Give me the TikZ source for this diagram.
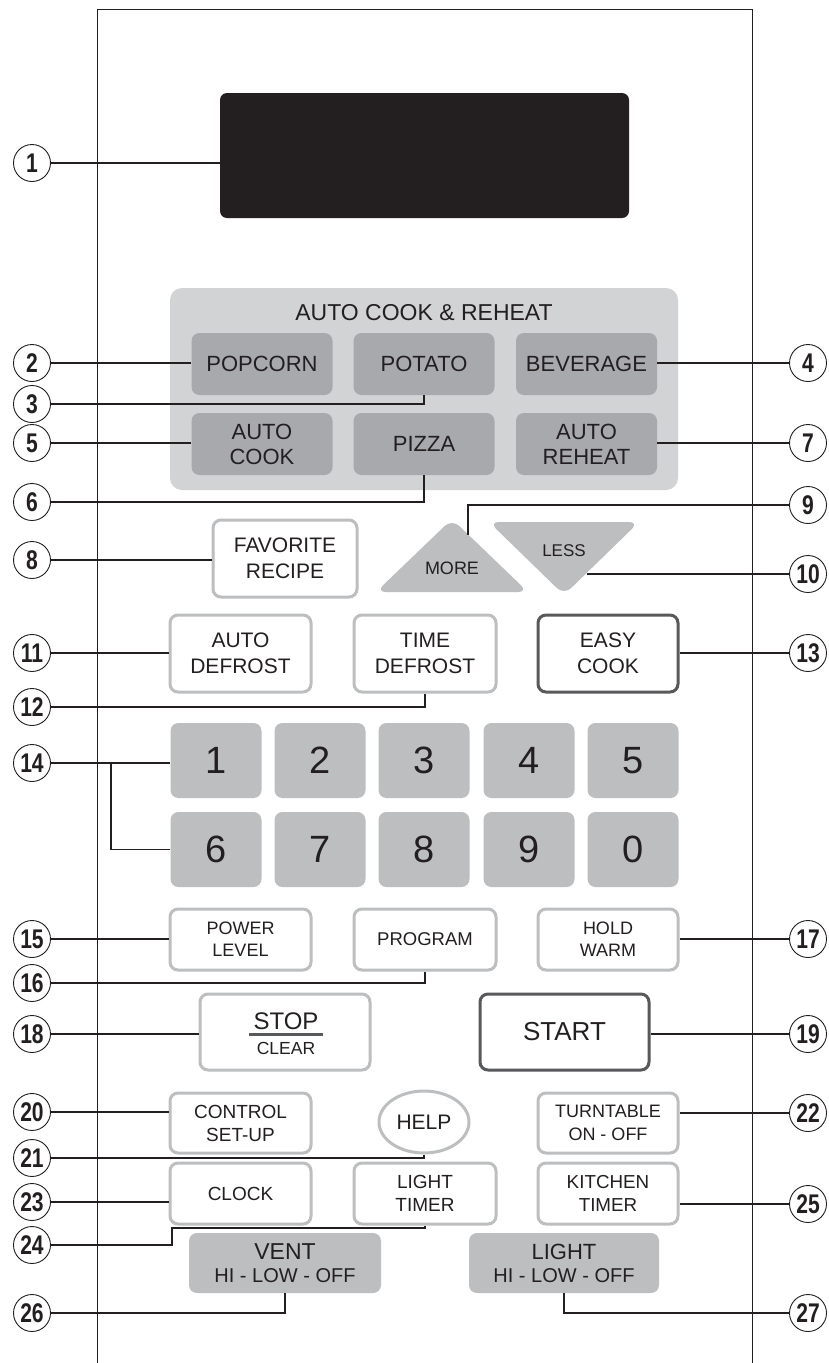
\documentclass[tikz,border=0pt]{standalone}
\usepackage{fontspec}
\setmainfont{Liberation Sans}
\newfontfamily\lblfont[FakeStretch=0.78]{Liberation Sans}
\usetikzlibrary{calc,shapes.geometric}
\definecolor{ink}{HTML}{231F20}
\definecolor{panelgray}{HTML}{D1D3D4}
\definecolor{autogray}{HTML}{A7A9AC}
\definecolor{keygray}{HTML}{BCBEC0}
\definecolor{rimgray}{HTML}{BCBEC0}
\definecolor{darkrim}{HTML}{58595B}
\newcommand{\fsz}[2]{\fontsize{#1}{#2}\selectfont}
\tikzset{
  lbl/.style={circle, draw=ink, line width=0.9, fill=white, minimum size=37, inner sep=0,
    font=\lblfont\fsz{27}{27}\bfseries, text=ink},
  wire/.style={draw=ink, line width=1.1},
  litebtn/.style={draw=rimgray, line width=3, fill=white, rounded corners=8, inner sep=0,
    text=ink, align=center},
  boldbtn/.style={draw=darkrim, line width=3, fill=white, rounded corners=8, inner sep=0,
    text=ink, align=center},
  autobtn/.style={fill=autogray, rounded corners=8, inner sep=0, text=ink, align=center,
    minimum width=141, minimum height=62, font=\fsz{22}{25}},
  keybtn/.style={fill=keygray, rounded corners=8, inner sep=0, text=ink,
    minimum width=91, minimum height=75, font=\fsz{38}{38}},
  ventbtn/.style={fill=keygray, rounded corners=8, inner sep=0, text=ink, align=center,
    minimum height=60, font=\fsz{20}{23}},
}
\begin{document}
\begin{tikzpicture}[x=1pt,y=-1pt]
\useasboundingbox (0,0) rectangle (829,1363);
\fill[white] (0,0) rectangle (829,1363);
% frame
\draw[ink, line width=1] (97,1363) -- (97,9) -- (752,9) -- (752,1363);
% display
\node[fill=ink, rounded corners=7, minimum width=409, minimum height=125, inner sep=0] (disp) at (424.5,155.5) {};
% auto cook panel
\node[fill=panelgray, rounded corners=12, minimum width=508, minimum height=202, inner sep=0] (panel) at (424,389) {};
\node[text=ink, font=\fsz{23}{23}, inner sep=0] (title) at (424,313) {AUTO COOK \& REHEAT};
\node[autobtn] (popcorn) at (262,364) {POPCORN};
\node[autobtn] (potato) at (424,364) {POTATO};
\node[autobtn] (beverage) at (586.5,364) {BEVERAGE};
\node[autobtn] (autocook) at (262,444) {AUTO\\COOK};
\node[autobtn] (pizza) at (424,444) {PIZZA};
\node[autobtn] (autoreheat) at (586.5,444) {AUTO\\REHEAT};
% favorite
\node[litebtn, minimum width=144, minimum height=77, font=\fsz{21}{26}] (favorite) at (285,558.5) {FAVORITE\\RECIPE};
% more / less
\fill[keygray, rounded corners=10] (452,519) -- (528,592) -- (376,592) -- cycle;
\fill[keygray, rounded corners=10] (489,522) -- (639,522) -- (564,595) -- cycle;
\node[text=ink, font=\fsz{18}{18}, inner sep=0] (more) at (452,568) {MORE};
\node[text=ink, font=\fsz{17}{17}, inner sep=0] (less) at (564,551) {LESS};
\coordinate (c9) at (468,535);
\coordinate (c10) at (587,574);
% defrost row
\node[litebtn, minimum width=141, minimum height=77, font=\fsz{21}{26}] (autodefrost) at (240.5,653.5) {AUTO\\DEFROST};
\node[litebtn, minimum width=142, minimum height=77, font=\fsz{21}{26}] (timedefrost) at (425,653.5) {TIME\\DEFROST};
\node[boldbtn, minimum width=140, minimum height=77, font=\fsz{21}{26}] (easycook) at (608,653.5) {EASY\\COOK};
% keypad
\node[keybtn] (k1) at (216,760.5) {1};
\node[keybtn] (k2) at (320,760.5) {2};
\node[keybtn] (k3) at (424,760.5) {3};
\node[keybtn] (k4) at (529,760.5) {4};
\node[keybtn] (k5) at (633,760.5) {5};
\node[keybtn] (k6) at (216,849.5) {6};
\node[keybtn] (k7) at (320,849.5) {7};
\node[keybtn] (k8) at (424,849.5) {8};
\node[keybtn] (k9) at (529,849.5) {9};
\node[keybtn] (k0) at (633,849.5) {0};
% power row
\node[litebtn, minimum width=141, minimum height=61, font=\fsz{18}{22}] (power) at (240.5,939.5) {POWER\\LEVEL};
\node[litebtn, minimum width=142, minimum height=61, font=\fsz{18.5}{22}] (program) at (425,939.5) {PROGRAM};
\node[litebtn, minimum width=140, minimum height=61, font=\fsz{18}{22}] (holdwarm) at (608,939.5) {HOLD\\WARM};
% stop / start
\node[litebtn, minimum width=170, minimum height=76] (stop) at (285,1032) {};
\node[text=ink, font=\fsz{24}{24}, inner sep=0] (stoptxt) at (286,1021) {STOP};
\node[text=ink, font=\fsz{17.5}{17.5}, inner sep=0] (cleartxt) at (286,1048) {CLEAR};
\draw[darkrim, line width=3] (249,1034) -- (323,1034);
\node[boldbtn, minimum width=169, minimum height=76, font=\fsz{26}{26}] (start) at (564.5,1032) {START};
% control row
\node[litebtn, minimum width=141, minimum height=60, font=\fsz{19}{23}] (control) at (240.5,1123) {CONTROL\\SET-UP};
\node[ellipse, draw=rimgray, line width=3, fill=white, minimum width=90, minimum height=62, inner sep=0,
  text=ink, font=\fsz{21}{21}] (help) at (424,1122) {HELP};
\node[litebtn, minimum width=140, minimum height=60, font=\fsz{18}{23}] (turntable) at (608,1123) {TURNTABLE\\ON - OFF};
% clock row
\node[litebtn, minimum width=141, minimum height=61, font=\fsz{19}{23}] (clock) at (240.5,1193.5) {CLOCK};
\node[litebtn, minimum width=142, minimum height=61, font=\fsz{19}{23}] (lighttimer) at (425,1193.5) {LIGHT\\TIMER};
\node[litebtn, minimum width=140, minimum height=61, font=\fsz{18.8}{23}] (kitchen) at (608,1193.5) {KITCHEN\\TIMER};
% vent / light
\node[ventbtn, minimum width=192] (vent) at (285,1263) {{\fsz{23}{23}VENT}\\HI - LOW - OFF};
\node[ventbtn, minimum width=190] (light) at (564,1263) {{\fsz{22}{22}LIGHT}\\HI - LOW - OFF};
% labels
\node[lbl] (l1) at (32,163) {1};
\node[lbl] (l2) at (32,363) {2};
\node[lbl] (l3) at (32,404) {3};
\node[lbl] (l4) at (808,363) {4};
\node[lbl] (l5) at (32,443) {5};
\node[lbl] (l6) at (32,502) {6};
\node[lbl] (l7) at (808,443) {7};
\node[lbl] (l8) at (32,560) {8};
\node[lbl] (l9) at (808,505) {9};
\node[lbl] (l10) at (808,574) {10};
\node[lbl] (l11) at (32,653) {11};
\node[lbl] (l12) at (32,707) {12};
\node[lbl] (l13) at (808,653) {13};
\node[lbl] (l14) at (32,763) {14};
\node[lbl] (l15) at (32,939) {15};
\node[lbl] (l16) at (32,983) {16};
\node[lbl] (l17) at (808,939) {17};
\node[lbl] (l18) at (32,1034) {18};
\node[lbl] (l19) at (808,1034) {19};
\node[lbl] (l20) at (32,1112) {20};
\node[lbl] (l21) at (32,1158) {21};
\node[lbl] (l22) at (808,1113) {22};
\node[lbl] (l23) at (32,1202) {23};
\node[lbl] (l24) at (32,1245) {24};
\node[lbl] (l25) at (808,1204) {25};
\node[lbl] (l26) at (32,1313) {26};
\node[lbl] (l27) at (808,1313) {27};
% connectors
\draw[wire] (l1.east) -- (l1.east -| disp.west);
\draw[wire] (l2.east) -- (l2.east -| popcorn.west);
\draw[wire] (l3.east) -| (potato.south);
\draw[wire] (l4.west) -- (l4.west -| beverage.east);
\draw[wire] (l5.east) -- (l5.east -| autocook.west);
\draw[wire] (l6.east) -| (pizza.south);
\draw[wire] (l7.west) -- (l7.west -| autoreheat.east);
\draw[wire] (l8.east) -- (l8.east -| favorite.west);
\draw[wire] (l9.west) -| (c9);
\draw[wire] (l10.west) -- (c10);
\draw[wire] (l11.east) -- (l11.east -| autodefrost.west);
\draw[wire] (l12.east) -| (timedefrost.south);
\draw[wire] (l13.west) -- (l13.west -| easycook.east);
\draw[wire] (l14.east) -- (l14.east -| k1.west);
\coordinate (b14) at (111,763);
\draw[wire] (b14) |- (k6.west);
\draw[wire] (l15.east) -- (l15.east -| power.west);
\draw[wire] (l16.east) -| (program.south);
\draw[wire] (l17.west) -- (l17.west -| holdwarm.east);
\draw[wire] (l18.east) -- (l18.east -| stop.west);
\draw[wire] (l19.west) -- (l19.west -| start.east);
\draw[wire] (l20.east) -- (l20.east -| control.west);
\draw[wire] (l21.east) -| (help.south);
\draw[wire] (l22.west) -- (l22.west -| turntable.east);
\draw[wire] (l23.east) -- (l23.east -| clock.west);
\coordinate (c24) at (172,1228);
\draw[wire] (l24.east) -| (c24) -| (lighttimer.south);
\draw[wire] (l25.west) -- (l25.west -| kitchen.east);
\draw[wire] (l26.east) -| (vent.south);
\draw[wire] (l27.west) -| (light.south);
\end{tikzpicture}
\end{document}
